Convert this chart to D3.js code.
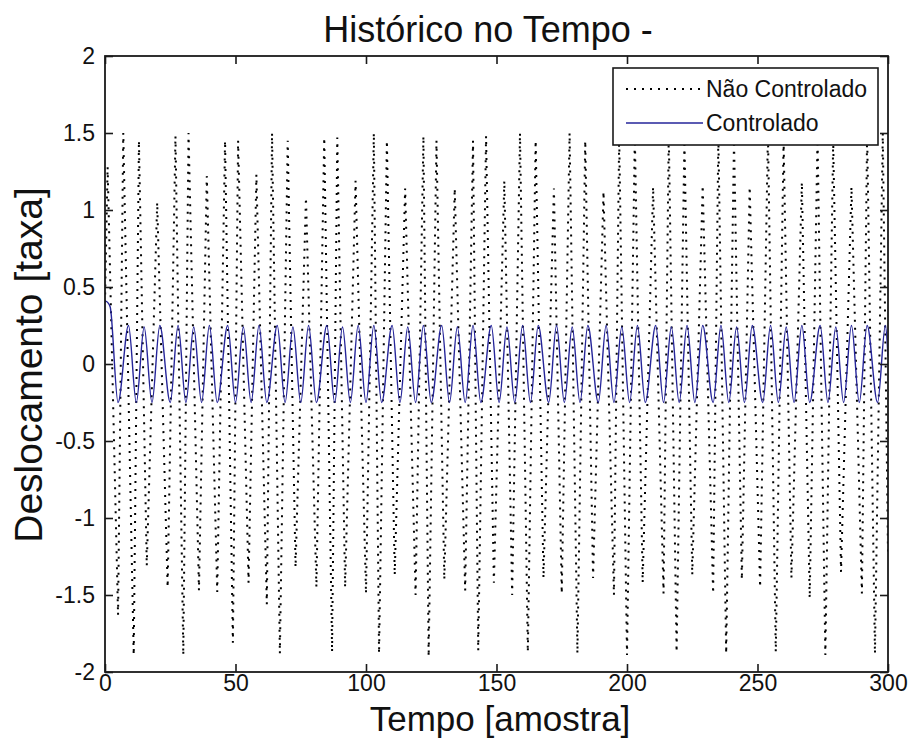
<!DOCTYPE html>
<html>
<head>
<meta charset="utf-8">
<script src="https://cdn.jsdelivr.net/npm/d3@7"></script>
<style>
  html, body { margin: 0; padding: 0; background: #ffffff; }
  svg { display: block; }
  text { font-family: Arial, "Liberation Sans", Helvetica, sans-serif; fill: #111; }
</style>
</head>
<body>
<svg id="chart" width="911" height="751"></svg>
<script>
// Uncontrolled response: sample index and displacement at each turning point
const uncT = [0, 1, 5, 7, 11, 13, 16, 20, 24, 27, 30, 32, 36, 39, 43, 46, 49, 51, 55, 58,
  62, 64, 67, 70, 73, 77, 81, 84, 87, 89, 92, 96, 100, 103, 105, 108, 111, 115, 119, 122,
  124, 127, 130, 134, 138, 141, 143, 146, 149, 153, 156, 159, 162, 165, 168, 172, 175, 178, 181, 184,
  187, 191, 195, 197, 200, 203, 206, 210, 214, 216, 219, 222, 225, 229, 233, 235, 238, 241, 244, 247,
  251, 254, 257, 260, 263, 267, 270, 273, 276, 279, 282, 286, 290, 292, 295, 298, 300];
const uncV = [0.40, 1.28, -1.63, 1.50, -1.89, 1.45, -1.31, 1.05, -1.45, 1.48, -1.89, 1.50, -1.47, 1.22, -1.48, 1.45, -1.81, 1.45, -1.42, 1.23,
  -1.56, 1.50, -1.88, 1.45, -1.32, 1.08, -1.45, 1.47, -1.87, 1.47, -1.45, 1.19, -1.49, 1.50, -1.88, 1.45, -1.37, 1.14, -1.50, 1.48,
  -1.90, 1.45, -1.40, 1.14, -1.47, 1.45, -1.86, 1.48, -1.42, 1.19, -1.50, 1.50, -1.87, 1.45, -1.39, 1.14, -1.49, 1.50, -1.88, 1.45,
  -1.39, 1.12, -1.50, 1.48, -1.89, 1.48, -1.42, 1.15, -1.49, 1.50, -1.87, 1.45, -1.37, 1.16, -1.49, 1.48, -1.88, 1.45, -1.40, 1.15,
  -1.45, 1.50, -1.87, 1.45, -1.39, 1.18, -1.52, 1.48, -1.89, 1.45, -1.35, 1.15, -1.49, 1.50, -1.88, 1.50, -1.22];

// Controlled response: sample index and displacement at each turning point
const ctrlT = [0, 1, 2, 5, 9, 12, 15, 18, 21, 25, 28, 31, 34, 37, 40, 43, 47, 50, 53, 56,
  59, 62, 66, 69, 72, 75, 78, 81, 85, 88, 91, 94, 97, 100, 103, 106, 110, 113, 116, 119,
  122, 125, 129, 132, 135, 138, 141, 144, 148, 151, 154, 157, 160, 163, 166, 170, 173, 176, 179, 182,
  185, 189, 192, 195, 198, 201, 204, 207, 211, 214, 217, 220, 223, 226, 229, 233, 236, 239, 242, 245,
  248, 252, 255, 258, 261, 264, 267, 270, 274, 277, 280, 283, 286, 289, 292, 296, 299, 300];
const ctrlV = [0.41, 0.40, 0.37, -0.25, 0.25, -0.25, 0.24, -0.25, 0.25, -0.25, 0.25, -0.25, 0.24, -0.25, 0.25, -0.25, 0.25, -0.25, 0.24, -0.25,
  0.25, -0.25, 0.25, -0.25, 0.24, -0.25, 0.25, -0.25, 0.25, -0.25, 0.24, -0.25, 0.25, -0.25, 0.25, -0.25, 0.25, -0.25, 0.24, -0.25,
  0.25, -0.25, 0.25, -0.25, 0.24, -0.25, 0.25, -0.25, 0.25, -0.25, 0.24, -0.25, 0.25, -0.25, 0.25, -0.25, 0.25, -0.25, 0.24, -0.25,
  0.25, -0.25, 0.25, -0.25, 0.24, -0.25, 0.25, -0.25, 0.25, -0.25, 0.24, -0.25, 0.25, -0.25, 0.25, -0.25, 0.25, -0.25, 0.24, -0.25,
  0.25, -0.25, 0.25, -0.25, 0.24, -0.25, 0.25, -0.25, 0.25, -0.25, 0.24, -0.25, 0.25, -0.25, 0.25, -0.25, 0.25, 0.05];

const xTicks = [0, 50, 100, 150, 200, 250, 300];
const yTicks = [-2, -1.5, -1, -0.5, 0, 0.5, 1, 1.5, 2];
const seriesNames = ["Não Controlado", "Controlado"];
const titleText = "Histórico no Tempo -";
const xLabelText = "Tempo [amostra]";
const yLabelText = "Deslocamento [taxa]";

const svg = d3.select("#chart");
const plot = { left: 105, right: 888, top: 56, bottom: 672 };

const x = d3.scaleLinear().domain([0, 300]).range([plot.left, plot.right]);
const y = d3.scaleLinear().domain([-2, 2]).range([plot.bottom, plot.top]);

const toPoints = (ts, vs) => ts.map((t, i) => [t, vs[i]]);
const line = d3.line().x(d => x(d[0])).y(d => y(d[1]));

svg.append("defs").append("clipPath").attr("id", "plotClip")
  .append("rect")
  .attr("x", plot.left).attr("y", plot.top)
  .attr("width", plot.right - plot.left).attr("height", plot.bottom - plot.top);

const series = svg.append("g").attr("clip-path", "url(#plotClip)");

// Uncontrolled: dotted black
series.append("path")
  .datum(toPoints(uncT, uncV))
  .attr("d", line)
  .attr("fill", "none")
  .attr("stroke", "#000")
  .attr("stroke-width", 2)
  .attr("stroke-dasharray", "2,6");

// Controlled: solid blue
series.append("path")
  .datum(toPoints(ctrlT, ctrlV))
  .attr("d", line.curve(d3.curveMonotoneX))
  .attr("fill", "none")
  .attr("stroke", "#25259a")
  .attr("stroke-width", 1.4);

// Axes box with inward ticks on all four sides
const tickLen = 8;
const axisColor = "#1a1a1a";

const bottomAxis = d3.axisBottom(x).tickValues(xTicks).tickSize(-tickLen).tickPadding(3).tickFormat(d3.format("d"));
const topAxis = d3.axisTop(x).tickValues(xTicks).tickSize(-tickLen).tickFormat("");
const leftAxis = d3.axisLeft(y).tickValues(yTicks).tickSize(-tickLen).tickPadding(10).tickFormat(d => String(d));
const rightAxis = d3.axisRight(y).tickValues(yTicks).tickSize(-tickLen).tickFormat("");

function styleAxis(g) {
  g.select(".domain").remove();
  g.selectAll(".tick line").attr("stroke", axisColor).attr("stroke-width", 1.6);
  g.selectAll(".tick text").attr("fill", "#111").style("font-size", "23px")
    .style("font-family", "Arial, 'Liberation Sans', sans-serif");
}

svg.append("g").attr("transform", `translate(0,${plot.bottom})`).call(bottomAxis).call(styleAxis)
  .selectAll(".tick text").attr("dy", "0.71em");
svg.append("g").attr("transform", `translate(0,${plot.top})`).call(topAxis).call(styleAxis);
svg.append("g").attr("transform", `translate(${plot.left},0)`).call(leftAxis).call(styleAxis);
svg.append("g").attr("transform", `translate(${plot.right},0)`).call(rightAxis).call(styleAxis);

svg.append("rect")
  .attr("x", plot.left).attr("y", plot.top)
  .attr("width", plot.right - plot.left).attr("height", plot.bottom - plot.top)
  .attr("fill", "none").attr("stroke", axisColor).attr("stroke-width", 1.8);

// Title and axis labels
svg.append("text")
  .attr("x", 488).attr("y", 42)
  .attr("text-anchor", "middle")
  .style("font-size", "36px")
  .text(titleText);

svg.append("text")
  .attr("x", 500).attr("y", 731)
  .attr("text-anchor", "middle")
  .style("font-size", "35px")
  .text(xLabelText);

svg.append("text")
  .attr("transform", `translate(42,365) rotate(-90)`)
  .attr("text-anchor", "middle")
  .style("font-size", "39px")
  .text(yLabelText);

// Legend
const legend = svg.append("g");
legend.append("rect")
  .attr("x", 613).attr("y", 68).attr("width", 265).attr("height", 77)
  .attr("fill", "#fff").attr("stroke", axisColor).attr("stroke-width", 1.6);

const legendRows = [
  { name: seriesNames[0], dash: "2,6", color: "#000", width: 2, yy: 89 },
  { name: seriesNames[1], dash: null, color: "#25259a", width: 1.4, yy: 123 }
];
legendRows.forEach(r => {
  legend.append("line")
    .attr("x1", 626).attr("x2", 703).attr("y1", r.yy).attr("y2", r.yy)
    .attr("stroke", r.color).attr("stroke-width", r.width)
    .attr("stroke-dasharray", r.dash);
  legend.append("text")
    .attr("x", 706).attr("y", r.yy + 8)
    .style("font-size", "23px")
    .text(r.name);
});
</script>
</body>
</html>
